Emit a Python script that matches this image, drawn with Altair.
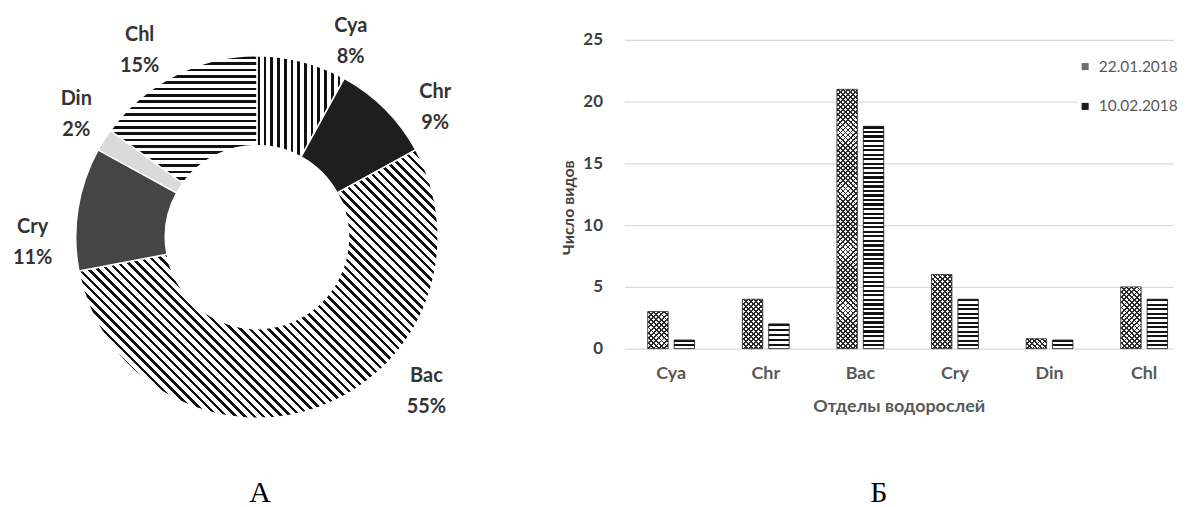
import math
import altair as alt
import pandas as pd

# ---------------- data ----------------
groups = ["Cya", "Chr", "Bac", "Cry", "Din", "Chl"]
share_pct = [8, 9, 55, 11, 2, 15]
dates = ["22.01.2018", "10.02.2018"]
count_0122 = [3, 4, 21, 6, 0.8, 5]
count_0210 = [0.7, 2, 18, 4, 0.7, 4]
y_ticks = [0, 5, 10, 15, 20, 25]
panel_letters = ["А", "Б"]
y_title = "Число видов"
x_title = "Отделы водорослей"

# ---------------- style ----------------
FONT = "Lato"
SERIF = "Liberation Serif"
R_IN, R_OUT = 92, 182
CX, CY = 250, 229
LABEL_R = 222
# label nudges (dx, dy) away from the slice mid-angle position
LABEL_NUDGE = {"Cya": (39, 3), "Chr": (22, 11), "Bac": (95, -69),
               "Cry": (-6, 25), "Din": (6, -20), "Chl": (-17, -5)}
PIE_W, PIE_H = 506, 450
BAR_W, BAR_H = 551, 341
Y_TOP = 31
X_PAD_IN = 0.505
X_PAD_OUT = 0.1525
X_ALIGN = 0.81
XO_PAD_IN = 0.226


def stripes(n, x1, y1, x2, y2, dark, light, duty):
    stops = []
    for i in range(n):
        a = i / n
        b = (i + duty) / n
        c = (i + 1) / n
        stops += [
            {"offset": round(a, 5), "color": dark},
            {"offset": round(b, 5), "color": dark},
            {"offset": round(b, 5), "color": light},
            {"offset": round(c, 5), "color": light},
        ]
    return {"gradient": "linear", "x1": x1, "y1": y1, "x2": x2, "y2": y2, "stops": stops}


def diag(w, h, period, rising, dark, light, duty):
    c = (w + h) / (w * w + h * h)
    n = max(1, round((w + h) / math.sqrt(2) / period))
    if rising:
        return stripes(n, 0, 0, c * w, c * h, dark, light, duty)
    return stripes(n, 0, 1, c * w, 1 - c * h, dark, light, duty)


def arc_bbox(f0, f1):
    xs, ys = [], []
    steps = 200
    for k in range(steps + 1):
        a = 2 * math.pi * (f0 + (f1 - f0) * k / steps)
        for r in (R_IN, R_OUT):
            xs.append(r * math.sin(a))
            ys.append(-r * math.cos(a))
    return max(xs) - min(xs), max(ys) - min(ys)


# ---------------- donut (A) ----------------
pie_df = pd.DataFrame({
    "group": groups,
    "pct": share_pct,
    "order": list(range(len(groups))),
    "label": [f"{g}\n{p}%" for g, p in zip(groups, share_pct)],
})

theta_scale = alt.Scale(domain=[0, 100], range=[0, 2 * math.pi])

pie_base = alt.Chart(pie_df).transform_window(
    cum="sum(pct)", sort=[alt.SortField("order")], frame=[None, 0]
).transform_calculate(
    start="datum.cum - datum.pct", mid="datum.cum - datum.pct / 2", end="datum.cum"
)

total = sum(share_pct)
cum = 0
pie_layers = []
for g, p in zip(groups, share_pct):
    f0, f1 = cum / total, (cum + p) / total
    cum += p
    w, h = arc_bbox(f0, f1)
    if g == "Cya":
        fill = stripes(max(1, round(w / 6.7)), 0, 0, 1, 0, "#111111", "#ffffff", 0.42)
    elif g == "Chl":
        fill = stripes(max(1, round(h / 6.5)), 0, 0, 0, 1, "#111111", "#ffffff", 0.42)
    elif g == "Bac":
        fill = diag(w, h, 6.6, False, "#111111", "#ffffff", 0.38)
    elif g == "Chr":
        fill = "#1e1e1e"
    elif g == "Cry":
        fill = "#454545"
    else:
        fill = "#dadada"
    layer = pie_base.transform_filter(alt.datum.group == g).mark_arc(
        innerRadius=R_IN, outerRadius=R_OUT, color=fill, stroke="white", strokeWidth=1.5
    ).encode(
        theta=alt.Theta("start:Q", scale=theta_scale),
        theta2="end:Q",
        x=alt.value(CX),
        y=alt.value(CY),
    )
    pie_layers.append(layer)

for g in groups:
    ndx, ndy = LABEL_NUDGE[g]
    pie_layers.append(pie_base.transform_filter(alt.datum.group == g).mark_text(
        radius=LABEL_R, font=FONT, fontSize=20, fontWeight="bold", color="#333333",
        lineBreak="\n", lineHeight=31, align="center", baseline="middle", dx=ndx, dy=ndy,
    ).encode(
        theta=alt.Theta("mid:Q", scale=theta_scale),
        text="label:N",
        x=alt.value(CX),
        y=alt.value(CY),
    ))

pie = alt.layer(*pie_layers).properties(
    width=PIE_W, height=PIE_H,
    title=alt.TitleParams(panel_letters[0], orient="bottom", font=SERIF, fontSize=30,
                          fontWeight="normal", color="#000000", offset=21),
)

# ---------------- grouped bars (Б) ----------------
bar_df = pd.DataFrame({
    "group": groups * 2,
    "date": [dates[0]] * len(groups) + [dates[1]] * len(groups),
    "value": count_0122 + count_0210,
})

x_enc = alt.X(
    "group:N", sort=groups,
    scale=alt.Scale(paddingInner=X_PAD_IN, paddingOuter=X_PAD_OUT, align=X_ALIGN),
    axis=alt.Axis(title=x_title, labelAngle=0, domain=False, ticks=False, labelPadding=16,
                  labelFont=FONT, labelFontSize=18, labelFontWeight="bold", labelColor="#595959",
                  titleFont=FONT, titleFontSize=18, titleFontWeight="bold", titleColor="#595959",
                  titlePadding=15),
)
xo_enc = alt.XOffset("date:N", sort=dates, scale=alt.Scale(paddingInner=XO_PAD_IN, paddingOuter=0))
y_enc = alt.Y(
    "value:Q",
    scale=alt.Scale(domain=[0, 25], range=[BAR_H, Y_TOP], nice=False),
    axis=alt.Axis(title=y_title, values=y_ticks, domain=False, ticks=False, grid=True,
                  gridColor="#d9d9d9", gridWidth=1.3, labelPadding=22,
                  labelFont=FONT, labelFontSize=17, labelFontWeight="bold", labelColor="#404040",
                  titleFont=FONT, titleFontSize=16, titleFontWeight="bold", titleColor="#404040",
                  titlePadding=6, titleY=199),
)

bar_base = alt.Chart(bar_df)
bars = bar_base.mark_bar().encode(
    x=x_enc, xOffset=xo_enc, y=y_enc,
    color=alt.Color("date:N", sort=dates,
                    scale=alt.Scale(domain=dates, range=["#6e6e6e", "#1a1a1a"]),
                    legend=alt.Legend(title=None, orient="none", legendX=1074, legendY=50,
                                      symbolType="square", symbolSize=50, symbolStrokeWidth=0,
                                      labelFont=FONT, labelFontSize=15.5, labelColor="#595959",
                                      rowPadding=23, labelOffset=6, fillColor="white", padding=0)),
)

px_per_unit = (BAR_H - Y_TOP) / 25
step_x = BAR_W / (len(groups) - X_PAD_IN + 2 * X_PAD_OUT)
bw_x = step_x * (1 - X_PAD_IN)
bar_w = bw_x / (2 - XO_PAD_IN) * (1 - XO_PAD_IN)

bar_layers = [bars]
for g, v1, v2 in zip(groups, count_0122, count_0210):
    # 22.01 — cross hatch
    h1 = v1 * px_per_unit
    sel1 = (alt.datum.group == g) & (alt.datum.date == dates[0])
    bar_layers.append(bar_base.transform_filter(sel1).mark_bar(
        color=diag(bar_w, h1, 3.6, True, "#2a2a2a", "#ffffff", 0.35)
    ).encode(x=x_enc, xOffset=xo_enc, y=y_enc))
    bar_layers.append(bar_base.transform_filter(sel1).mark_bar(
        color=diag(bar_w, h1, 3.6, False, "#2a2a2a", "rgba(0,0,0,0)", 0.35),
        stroke="#333333", strokeWidth=0.8,
    ).encode(x=x_enc, xOffset=xo_enc, y=y_enc))
    # 10.02 — horizontal stripes
    h2 = v2 * px_per_unit
    sel2 = (alt.datum.group == g) & (alt.datum.date == dates[1])
    bar_layers.append(bar_base.transform_filter(sel2).mark_bar(
        color=stripes(max(1, round(h2 / 4.6)), 0, 0, 0, 1, "#111111", "#ffffff", 0.5),
        stroke="#222222", strokeWidth=0.8,
    ).encode(x=x_enc, xOffset=xo_enc, y=y_enc))

bar_chart = alt.layer(*bar_layers).properties(
    width=BAR_W, height=BAR_H,
    title=alt.TitleParams(panel_letters[1], orient="bottom", font=SERIF, fontSize=30,
                          fontWeight="normal", color="#000000", offset=63, dx=-20),
)

chart = alt.hconcat(pie, bar_chart, spacing=113, bounds="flush").properties(
    padding=0, background="white"
).configure_view(stroke=None)

chart.save("out.html", embed_options={"renderer": "svg", "actions": False})
